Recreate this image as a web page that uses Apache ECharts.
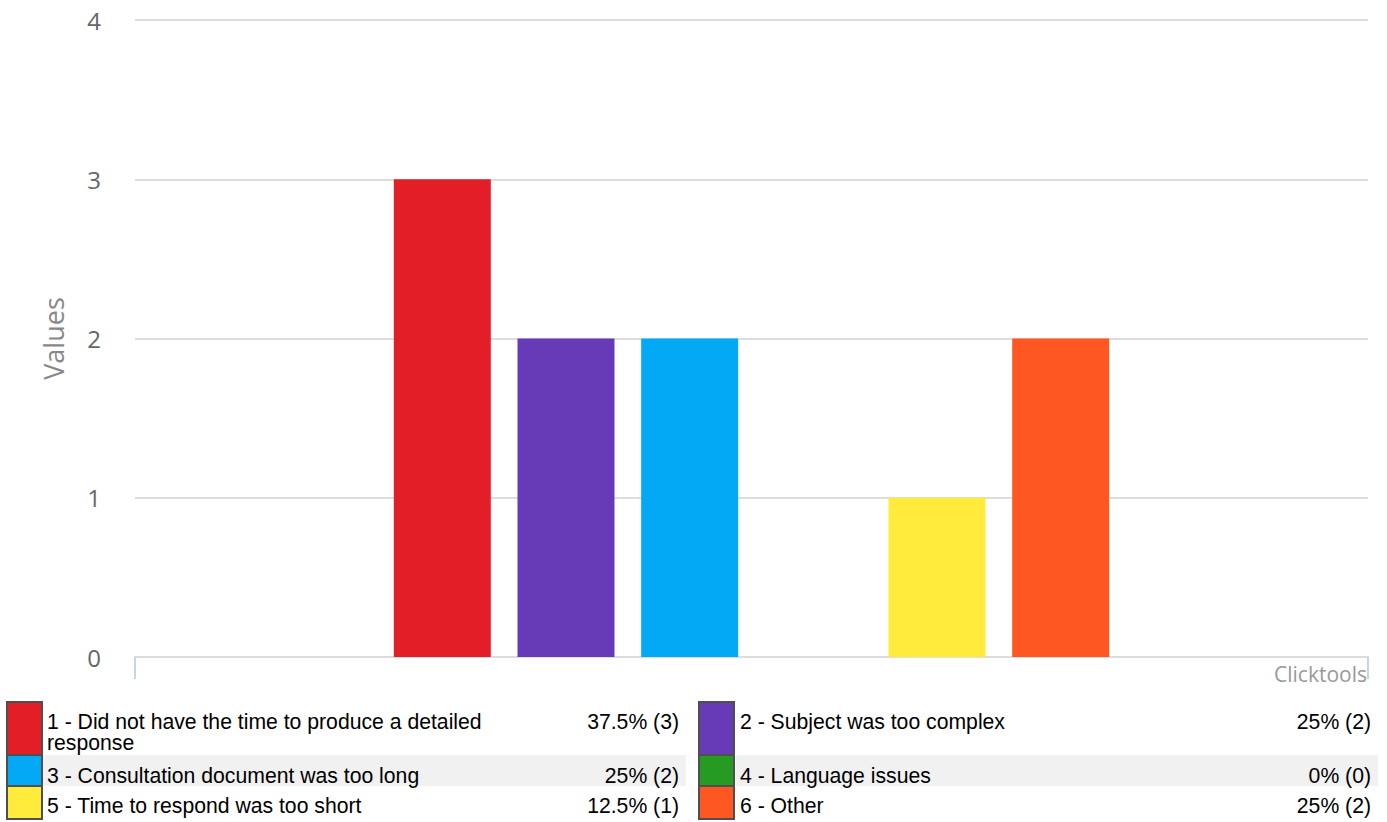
<!DOCTYPE html>
<html>
<head>
<meta charset="utf-8">
<script src="https://cdn.jsdelivr.net/npm/echarts@6/dist/echarts.min.js"></script>
<style>
html,body{margin:0;padding:0;background:#fff;}
#chart{width:1387px;height:822px;}
</style>
</head>
<body>
<div id="chart"></div>
<script>
// ---- data ----
var categories = [''];
var seriesNames = [
  '1 - Did not have the time to produce a detailed response',
  '2 - Subject was too complex',
  '3 - Consultation document was too long',
  '4 - Language issues',
  '5 - Time to respond was too short',
  '6 - Other'
];
var seriesValues = [3, 2, 2, 0, 1, 2];
var percentLabels = ['37.5% (3)', '25% (2)', '25% (2)', '0% (0)', '12.5% (1)', '25% (2)'];
var yTicks = [0, 1, 2, 3, 4];
var colors = ['#e41e26', '#673ab7', '#03a9f4', '#259b24', '#ffeb3b', '#ff5722'];

// ---- chart ----
var chart = echarts.init(document.getElementById('chart'), null, {renderer: 'svg'});

var series = seriesNames.map(function (name, i) {
  return {
    name: name,
    type: 'bar',
    data: [seriesValues[i]],
    barWidth: 97,
    barGap: '27.5%',
    itemStyle: {color: colors[i]},
    emphasis: {disabled: true}
  };
});

// legend as table built from the arrays
var rowTops = [702, 755, 786, 819];
var colX = [{sq: 7, txt: 47, pct: 679, bgL: 42, bgR: 686}, {sq: 699, txt: 740, pct: 1371, bgL: 736, bgR: 1378}];
var legendFont = '21.2px "Liberation Sans", Arial, sans-serif';
var graphics = [];
colX.forEach(function (c) {
  graphics.push({type: 'rect', silent: true, z: 1,
    shape: {x: c.bgL, y: rowTops[1], width: c.bgR - c.bgL, height: rowTops[2] - rowTops[1]},
    style: {fill: '#f1f1f1'}});
});
var rowMid = [721, 775, 805];
seriesNames.forEach(function (name, i) {
  var row = Math.floor(i / 2), col = i % 2, c = colX[col];
  var top = rowTops[row], bot = rowTops[row + 1];
  graphics.push({type: 'rect', silent: true, z: 3,
    shape: {x: c.sq, y: top, width: 35, height: bot - top},
    style: {fill: colors[i], stroke: '#4f4f4f', lineWidth: 2}});
  graphics.push({type: 'text', silent: true, z: 3,
    x: c.txt, y: row === 0 ? rowMid[0] - 10.5 : rowMid[row],
    style: {text: name, fill: '#000', font: legendFont,
      width: 490, overflow: 'break', lineHeight: 21,
      align: 'left', verticalAlign: row === 0 ? 'top' : 'middle'}});
  graphics.push({type: 'text', silent: true, z: 3,
    x: c.pct, y: rowMid[row],
    style: {text: percentLabels[i], fill: '#000', font: legendFont,
      align: 'right', verticalAlign: 'middle'}});
});
// credits
graphics.push({type: 'text', silent: true, z: 3, x: 1367, y: 674,
  style: {text: 'Clicktools', fill: '#999', font: '21px "Open Sans", sans-serif', align: 'right', verticalAlign: 'middle'}});

chart.setOption({
  animation: false,
  backgroundColor: '#fff',
  grid: {left: 135, right: 19, top: 20, bottom: 165, containLabel: false},
  xAxis: {
    type: 'category',
    data: categories,
    boundaryGap: true,
    axisLine: {show: true, lineStyle: {color: '#dcdcdc', width: 2}},
    axisTick: {show: true, alignWithLabel: false, length: 22, lineStyle: {color: '#c6d5e6', width: 2}},
    axisLabel: {show: false},
    splitLine: {show: false}
  },
  yAxis: {
    type: 'value',
    min: yTicks[0],
    max: yTicks[yTicks.length - 1],
    interval: 1,
    name: 'Values',
    nameLocation: 'middle',
    nameGap: 68,
    nameRotate: 90,
    nameTextStyle: {color: '#888', fontSize: 27, fontFamily: 'Open Sans'},
    axisLine: {show: false},
    axisTick: {show: false},
    axisLabel: {color: '#666', fontSize: 24, fontFamily: 'Open Sans', margin: 34},
    splitLine: {lineStyle: {color: '#dddddd', width: 2}}
  },
  series: series,
  graphic: graphics
});
</script>
</body>
</html>
